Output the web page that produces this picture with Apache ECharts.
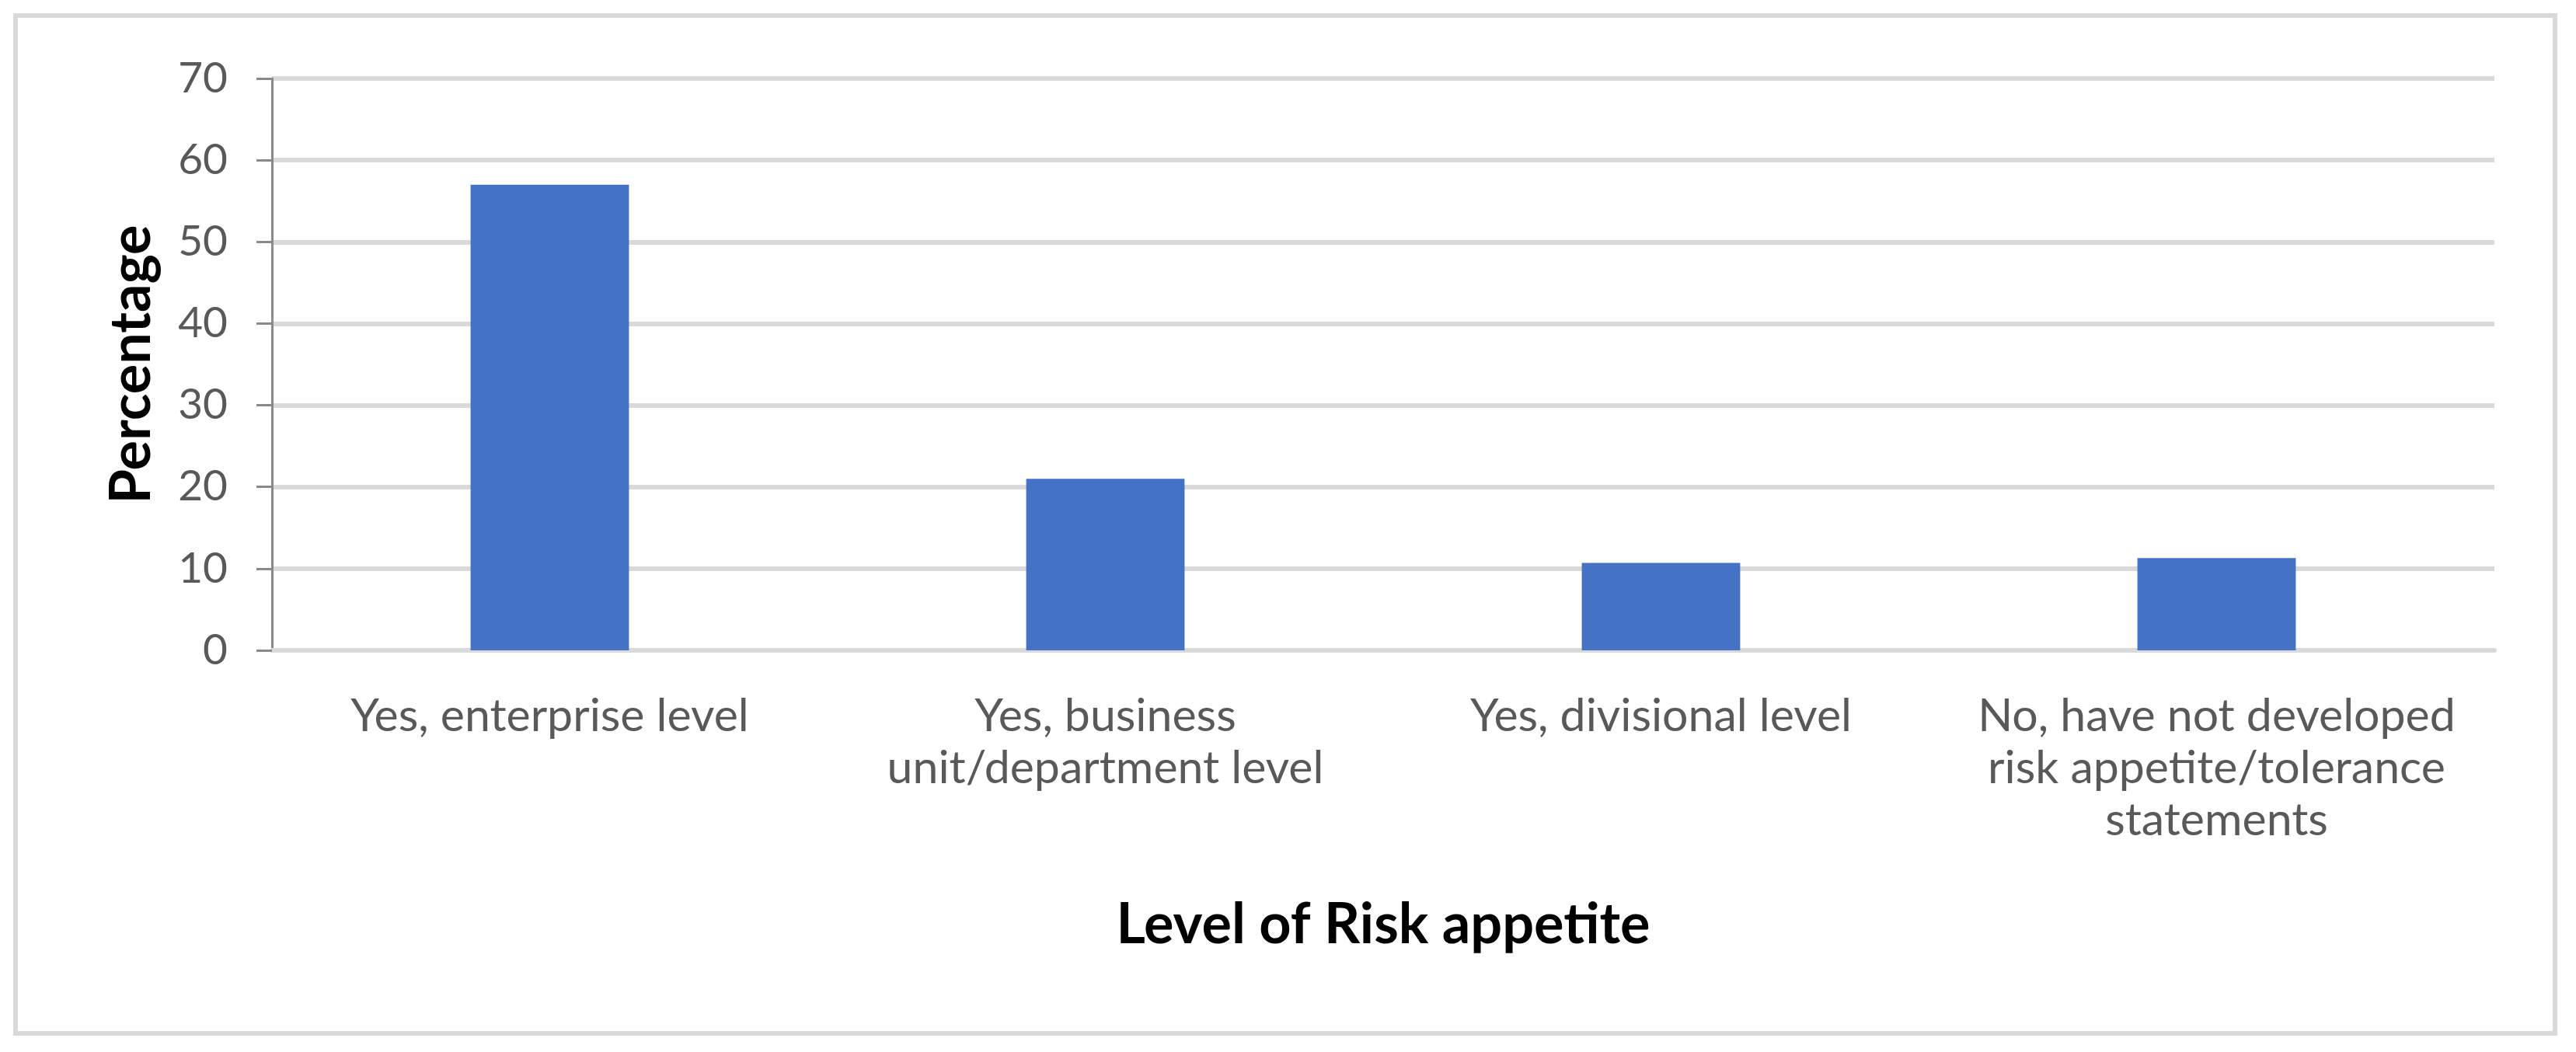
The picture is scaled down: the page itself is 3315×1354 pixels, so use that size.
<!DOCTYPE html>
<html>
<head>
<meta charset="utf-8">
<script src="https://cdn.jsdelivr.net/npm/echarts@6/dist/echarts.min.js"></script>
<style>
html,body{margin:0;padding:0;background:#fff;}
#chart{width:3315px;height:1354px;}
</style>
</head>
<body>
<div id="chart"></div>
<script>
const categories = [
  "Yes, enterprise level",
  "Yes, business\nunit/department level",
  "Yes, divisional level",
  "No, have not developed\nrisk appetite/tolerance\nstatements"
];
const percentages = [57, 21, 10.7, 11.3];
const yTicks = { min: 0, max: 70, interval: 10 };
const xTitle = "Level of Risk appetite";
const yTitle = "Percentage";

const chart = echarts.init(document.getElementById('chart'), null, { renderer: 'canvas' });
const FONT = 'Lato';
chart.setOption({
  backgroundColor: '#ffffff',
  animation: false,
  graphic: [{
    type: 'rect',
    shape: { x: 20, y: 20, width: 3268, height: 1310 },
    style: { fill: 'none', stroke: '#d9d9d9', lineWidth: 6 },
    silent: true
  }],
  grid: { left: 350, right: 105, top: 101, bottom: 1354 - 837, containLabel: false },
  xAxis: {
    type: 'category',
    data: categories,
    axisLine: { show: true, lineStyle: { color: '#d9d9d9', width: 6 } },
    axisTick: { show: false },
    axisLabel: {
      interval: 0,
      margin: 51,
      color: '#595959',
      fontFamily: FONT,
      fontSize: 59,
      lineHeight: 67
    },
    name: xTitle,
    nameLocation: 'middle',
    nameGap: 318,
    nameTextStyle: { color: '#000000', fontFamily: FONT, fontWeight: 'bold', fontSize: 72 }
  },
  yAxis: {
    type: 'value',
    min: yTicks.min,
    max: yTicks.max,
    interval: yTicks.interval,
    axisLine: { show: true, lineStyle: { color: '#8a8a8a', width: 3 } },
    axisTick: { show: true, length: 20, lineStyle: { color: '#8a8a8a', width: 3 } },
    axisLabel: { margin: 57, color: '#595959', fontFamily: FONT, fontSize: 55 },
    splitLine: { show: true, lineStyle: { color: '#d9d9d9', width: 6 } },
    name: yTitle,
    nameLocation: 'middle',
    nameGap: 144,
    nameTextStyle: { color: '#000000', fontFamily: FONT, fontWeight: 'bold', fontSize: 72 }
  },
  series: [{
    type: 'bar',
    data: percentages,
    barWidth: '28.5%',
    itemStyle: { color: '#4472c4' },
    z: 3
  }]
});
</script>
</body>
</html>
